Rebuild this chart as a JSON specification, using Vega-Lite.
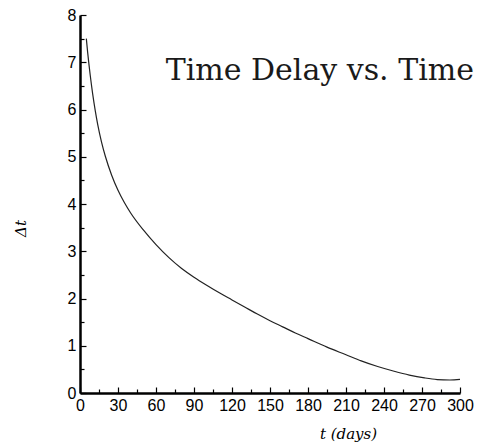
{
  "$schema": "https://vega.github.io/schema/vega-lite/v6.json",
  "width": 380,
  "height": 378,
  "autosize": {"type": "none"},
  "padding": {"left": 80, "top": 15, "right": 18, "bottom": 54},
  "background": "white",
  "config": {"view": {"stroke": null}, "axis": {"labelOverlap": false, "grid": false, "tickColor": "black", "domainColor": "black"}},
  "resolve": {"axis": {"x": "independent", "y": "independent"}},
  "layer": [
    {
      "data": {"values": [
        {"t": 5, "dt": 7.5}, {"t": 6, "dt": 7.22}, {"t": 7, "dt": 6.97}, {"t": 8, "dt": 6.74},
        {"t": 10, "dt": 6.33}, {"t": 12, "dt": 5.98}, {"t": 14, "dt": 5.68}, {"t": 17, "dt": 5.31},
        {"t": 20, "dt": 5.01}, {"t": 25, "dt": 4.61}, {"t": 30, "dt": 4.29}, {"t": 35, "dt": 4.03},
        {"t": 40, "dt": 3.81}, {"t": 50, "dt": 3.45}, {"t": 60, "dt": 3.14}, {"t": 70, "dt": 2.87},
        {"t": 80, "dt": 2.64}, {"t": 90, "dt": 2.45}, {"t": 100, "dt": 2.28}, {"t": 110, "dt": 2.12},
        {"t": 120, "dt": 1.97}, {"t": 130, "dt": 1.82}, {"t": 140, "dt": 1.67}, {"t": 150, "dt": 1.53},
        {"t": 160, "dt": 1.4}, {"t": 170, "dt": 1.27}, {"t": 180, "dt": 1.15}, {"t": 195, "dt": 0.97},
        {"t": 210, "dt": 0.81}, {"t": 222, "dt": 0.68}, {"t": 235, "dt": 0.56}, {"t": 248, "dt": 0.46},
        {"t": 260, "dt": 0.38}, {"t": 272, "dt": 0.32}, {"t": 282, "dt": 0.285}, {"t": 292, "dt": 0.275},
        {"t": 300, "dt": 0.29}
      ]},
      "mark": {"type": "line", "color": "#222222", "strokeWidth": 1.2, "interpolate": "monotone"},
      "encoding": {
        "x": {
          "field": "t", "type": "quantitative",
          "scale": {"domain": [0, 300], "nice": false, "zero": false},
          "axis": {
            "orient": "bottom",
            "values": [0,30,60,90,120,150,180,210,240,270,300],
            "domainWidth": 2.5, "tickWidth": 1.2, "tickSize": -6,
            "labelFont": "Liberation Sans", "labelFontSize": 16, "labelColor": "black",
            "labelPadding": 10, "labelFlush": false, "labelOverlap": false,
            "title": "t (days)", "titleFont": "DejaVu Serif", "titleFontStyle": "italic",
            "titleFontWeight": "normal", "titleFontSize": 15, "titleColor": "black",
            "titleX": 268, "titleY": 45, "titleAlign": "center", "titleBaseline": "alphabetic"
          }
        },
        "y": {
          "field": "dt", "type": "quantitative",
          "scale": {"domain": [0, 8], "nice": false, "zero": false},
          "axis": {
            "orient": "left",
            "values": [0,1,2,3,4,5,6,7,8],
            "domainWidth": 2.5, "tickWidth": 1.2, "tickSize": -6,
            "labelFont": "Liberation Sans", "labelFontSize": 16, "labelColor": "black",
            "labelPadding": 10, "labelFlush": false, "labelOverlap": false,
            "title": "Δt", "titleFont": "DejaVu Serif", "titleFontStyle": "italic",
            "titleFontWeight": "normal", "titleFontSize": 15, "titleColor": "black",
            "titleX": -60, "titleY": 213, "titleAlign": "center", "titleBaseline": "middle", "titleAngle": -90
          }
        }
      }
    },
    {
      "data": {"values": [{"label": "Time Delay vs. Time"}]},
      "mark": {"type": "text", "font": "DejaVu Serif", "fontSize": 30, "align": "right", "baseline": "alphabetic", "color": "#1a1a1a", "dx": 14, "clip": false},
      "encoding": {
        "x": {
          "datum": 300, "type": "quantitative",
          "scale": {"domain": [0, 300], "nice": false, "zero": false},
          "axis": {
            "orient": "bottom",
            "values": [15,45,75,105,135,165,195,225,255,285],
            "domain": false, "labels": false, "title": null,
            "tickWidth": 1.2, "tickSize": -4
          }
        },
        "y": {
          "datum": 6.62, "type": "quantitative",
          "scale": {"domain": [0, 8], "nice": false, "zero": false},
          "axis": {
            "orient": "left",
            "values": [0.5,1.5,2.5,3.5,4.5,5.5,6.5,7.5],
            "domain": false, "labels": false, "title": null,
            "tickWidth": 1.2, "tickSize": -4
          }
        },
        "text": {"field": "label"}
      }
    }
  ]
}
